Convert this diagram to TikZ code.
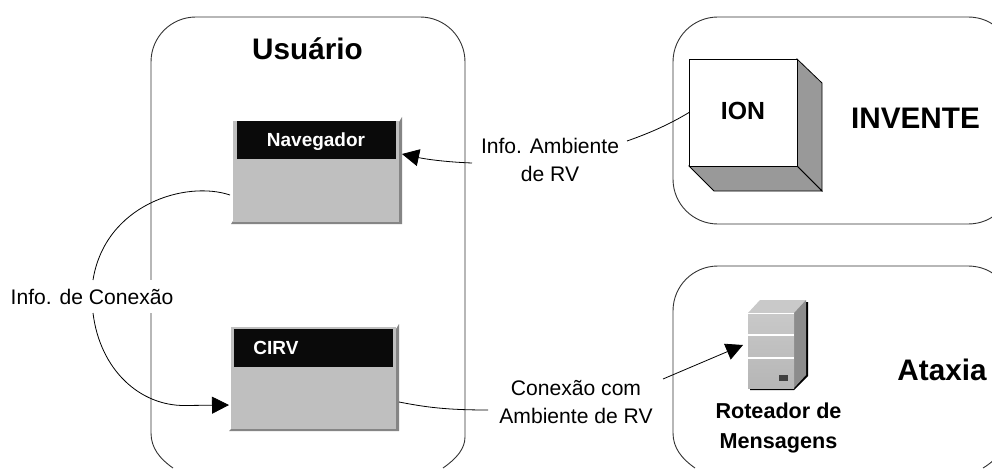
\documentclass[tikz,border=0pt]{standalone}
\usepackage{fontspec}
\setmainfont{Liberation Sans}
\usetikzlibrary{arrows.meta}
\definecolor{boxgray}{HTML}{BFBFBF}
\definecolor{shadegray}{HTML}{858585}
\definecolor{cubegray}{HTML}{999999}
\definecolor{headblack}{HTML}{0A0A0A}
\tikzset{
  container/.style={draw=black!80,line width=0.9pt},
  link/.style={draw=black,line width=0.8pt},
  arrowlink/.style={link,-{Triangle[length=17pt,width=17pt]}},
  bigtitle/.style={font=\fontsize{29.7}{32}\selectfont\bfseries,inner sep=0pt},
  label/.style={font=\fontsize{21.1}{28}\selectfont,align=center,inner sep=0pt},
  sublabel/.style={font=\fontsize{21.6}{30}\selectfont\bfseries,align=center,inner sep=0pt},
  headtext/.style={font=\fontsize{19}{22}\selectfont\bfseries,text=white,inner sep=0pt},
  flat/.style={inner sep=0pt,outer sep=0pt,anchor=north west},
}
\begin{document}
\begin{tikzpicture}[x=1pt,y=-1pt]
\useasboundingbox (0,0) rectangle (992,468);
\fill[white] (0,0) rectangle (992,468);
\begin{scope}
\clip (0,0) rectangle (992,468);
% containers
\draw[container] (173,468) .. controls (160,459) and (151,448) .. (151,433) -- (151,62)
  .. controls (151,37) and (171,17) .. (196,17) -- (420,17)
  .. controls (445,17) and (465,37) .. (465,62) -- (465,437)
  .. controls (465,449) and (456,459) .. (443,468);
\draw[container] (1012,180) .. controls (1012,205) and (993,224) .. (968,224) -- (718,224)
  .. controls (693,224) and (673,204) .. (673,179) -- (673,62)
  .. controls (673,37) and (693,17) .. (718,17) -- (968,17)
  .. controls (993,17) and (1012,36) .. (1012,61);
\draw[container] (695,468) .. controls (682,459) and (673,448) .. (673,433) -- (673,311)
  .. controls (673,286) and (693,266) .. (718,266) -- (968,266)
  .. controls (993,266) and (1012,285) .. (1012,310) -- (1012,420)
  .. controls (1012,440) and (1000,458) .. (983,468);
\end{scope}
% Navegador window
\fill[shadegray] (231,224) -- (233,221) -- (399,221) -- (399,122) -- (402,117) -- (402,224) -- cycle;
\node[flat,fill=boxgray,minimum width=166pt,minimum height=101pt] (nav) at (233,120.5) {};
\node[flat,fill=headblack,minimum width=159pt,minimum height=38pt] (navhead) at (237,121) {};
\node[headtext] (navtext) at (316,142) {Navegador};
% CIRV window
\fill[shadegray] (229,431) -- (231,429) -- (396,429) -- (396,329) -- (399,324) -- (399,431) -- cycle;
\node[flat,fill=boxgray,minimum width=165pt,minimum height=102pt] (cirv) at (231,327) {};
\node[flat,fill=headblack,minimum width=159pt,minimum height=38pt] (cirvhead) at (234,329) {};
\node[headtext] (cirvtext) at (276,348) {CIRV};
% ION cube
\filldraw[fill=cubegray,draw=black,line width=0.8pt] (797,59) -- (822,83) -- (822,191) -- (797,166) -- cycle;
\filldraw[fill=cubegray,draw=black,line width=0.8pt] (689,166) -- (714,191) -- (822,191) -- (797,166) -- cycle;
\node[flat,draw=black,line width=0.8pt,fill=white,minimum width=108pt,minimum height=107pt] (ion) at (689,59) {};
\node[font=\fontsize{24.8}{28}\selectfont\bfseries,inner sep=0pt] (iontext) at (743,111) {ION};
% router
\fill[black] (806,302) -- (808,302) -- (808,376) -- (794,390) -- (750,390) -- (750,388) -- (806,375) -- cycle;
\fill[boxgray!85!white] (748,313) -- (760,300) -- (806,300) -- (794,313) -- cycle;
\fill[gray!90] (794,313) -- (806,300) -- (806,375) -- (794,388) -- cycle;
\node[flat,minimum width=46pt,minimum height=75pt,top color=boxgray!85!white,bottom color=boxgray!95!black] (router) at (748,313) {};
\fill[white] (748,312.5) rectangle (794,314);
\fill[white] (748,333.5) rectangle (794,335.5);
\fill[white] (748,356.5) rectangle (794,358.5);
\fill[black!75] (779,375) rectangle (788,381);
% titles
\node[bigtitle] (usuario) at (307.5,49) {Usuário};
\node[bigtitle] (invente) at (915.5,118) {INVENTE};
\node[bigtitle] (ataxia) at (942,370) {Ataxia};
\node[sublabel] (rotlabel) at (778.5,427.5) {Roteador de\\Mensagens};
% labels
\node[label] (ambinfo) at (550,159.5) {Info. Ambiente\\de RV};
\node[label] (conamb) at (576,402) {Conexão com\\Ambiente de RV};
\node[label,fill=white,minimum width=165pt,minimum height=33pt] (coninfo) at (92,296.5) {Info. de Conexão};
% anchors for connectors
\coordinate (navin) at (402,154);
\coordinate (navout) at (230,195);
\coordinate (cirvin) at (229,405);
\coordinate (cirvout) at (399,402);
\coordinate (ambl) at (472,163);
\coordinate (ambr) at (627,141);
\coordinate (conl) at (488,410);
\coordinate (conr) at (663,379);
\coordinate (routerin) at (743,345);
\coordinate (cont) at (93,280);
\coordinate (conb) at (93,313);
% connectors
\draw[link] (navout) .. controls (185,180) and (105,205) .. (cont);
\draw[arrowlink] (conb) .. controls (100,370) and (140,406) .. (185,405.5) -- (cirvin);
\draw[arrowlink] (ambl) .. controls (445,162) and (425,159) .. (navin);
\draw[link] (ambr) .. controls (650,133) and (670,124) .. (ion.west);
\draw[link] (cirvout) .. controls (425,407) and (445,410) .. (conl);
\draw[arrowlink] (conr) -- (routerin);
\end{tikzpicture}
\end{document}
